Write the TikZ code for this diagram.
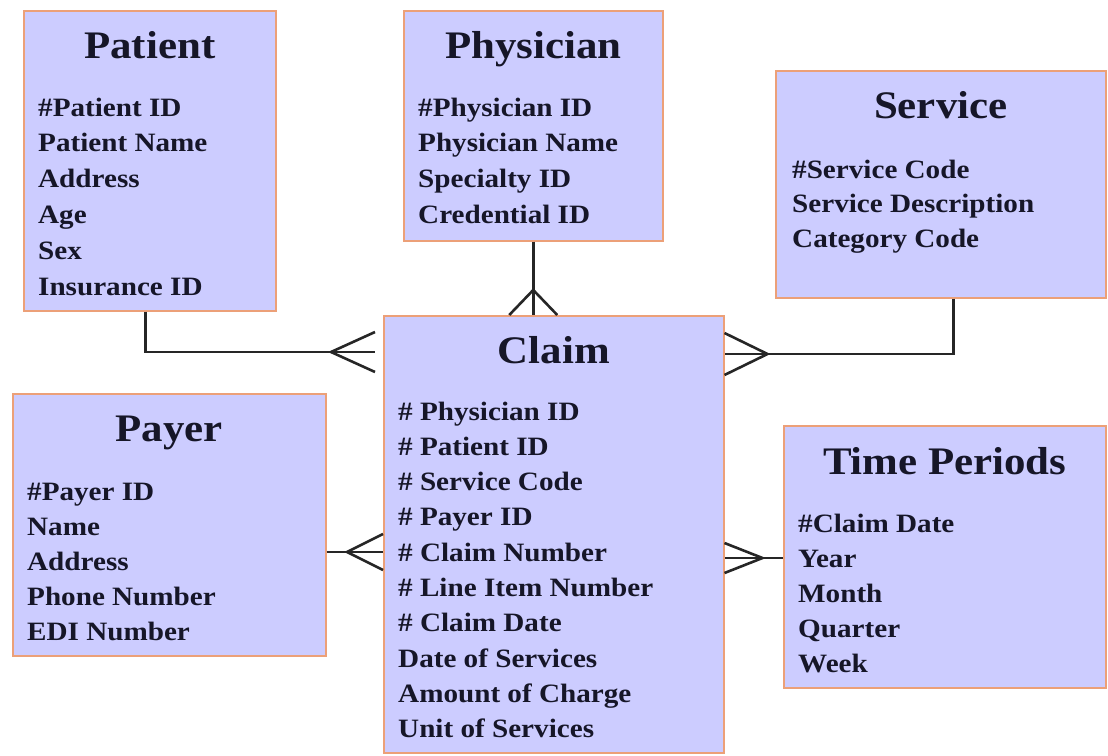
\documentclass[tikz,border=0pt]{standalone}
\usepackage{fontspec}
\setmainfont{Liberation Serif}[FakeStretch=1.1]
\usetikzlibrary{positioning,calc}

\definecolor{boxfill}{RGB}{204,204,255}
\definecolor{boxline}{RGB}{236,160,120}
\definecolor{ink}{RGB}{22,22,40}

\begin{document}
\begin{tikzpicture}
    [%%%%%%%%%%%%%%%%%%%%%%%%%%%%%%
        x=1pt,y=-1pt,
        entity/.style={rectangle,draw=boxline,fill=boxfill,line width=1.5pt,anchor=north west,inner sep=0pt},
        title/.style={anchor=base,inner sep=0pt,text=ink,font=\bfseries\fontsize{39}{39}\selectfont},
        item/.style={anchor=base west,inner sep=0pt,text=ink,font=\bfseries\fontsize{26.5}{26.5}\selectfont},
        link/.style={line width=2.6pt,black!85},
        pics/crow/.style n args={2}{code={\draw[link] (0,-#2) -- (-#1,0) -- (0,#2);}}
    ]%%%%%%%%%%%%%%%%%%%%%%%%%%%%%%
\useasboundingbox (0,0) rectangle (1108,755);

% entity boxes
\node[entity,minimum width=252pt,minimum height=300pt] (patient) at (23,10){};
\node[entity,minimum width=259pt,minimum height=230pt] (physician) at (403,10){};
\node[entity,minimum width=330pt,minimum height=227pt] (service) at (775,70){};
\node[entity,minimum width=340pt,minimum height=437pt] (claim) at (383,315){};
\node[entity,minimum width=313pt,minimum height=262pt] (payer) at (12,393){};
\node[entity,minimum width=322pt,minimum height=262pt] (time) at (783,425){};

% titles
\node[title] (patient-t) at ([yshift=-48pt]patient.north){Patient};
\node[title] (physician-t) at ([yshift=-48pt]physician.north){Physician};
\node[title] (service-t) at ([yshift=-48pt]service.north){Service};
\node[title] (claim-t) at ([yshift=-48pt]claim.north){Claim};
\node[title] (payer-t) at ([yshift=-48pt]payer.north){Payer};
\node[title] (time-t) at ([yshift=-49pt]time.north){Time Periods};

% attributes
\foreach \t [count=\i] in {\#Patient ID,Patient Name,Address,Age,Sex,Insurance ID}
    \node[item] (patient-\i) at ([xshift=15pt,yshift={-106pt-(\i-1)*35.8pt}]patient.north west){\t};

\foreach \t [count=\i] in {\#Physician ID,Physician Name,Specialty ID,Credential ID}
    \node[item] (physician-\i) at ([xshift=15pt,yshift={-106pt-(\i-1)*35.8pt}]physician.north west){\t};

\foreach \t [count=\i] in {\#Service Code,Service Description,Category Code}
    \node[item] (service-\i) at ([xshift=17pt,yshift={-108pt-(\i-1)*34.5pt}]service.north west){\t};

\foreach \t [count=\i] in {\# Physician ID,\# Patient ID,\# Service Code,\# Payer ID,\# Claim Number,\# Line Item Number,\# Claim Date,Date of Services,Amount of Charge,Unit of Services}
    \node[item] (claim-\i) at ([xshift=15pt,yshift={-105pt-(\i-1)*35.3pt}]claim.north west){\t};

\foreach \t [count=\i] in {\#Payer ID,Name,Address,Phone Number,EDI Number}
    \node[item] (payer-\i) at ([xshift=15pt,yshift={-107pt-(\i-1)*35pt}]payer.north west){\t};

\foreach \t [count=\i] in {\#Claim Date,Year,Month,Quarter,Week}
    \node[item] (time-\i) at ([xshift=15pt,yshift={-107pt-(\i-1)*35pt}]time.north west){\t};

% connectors with crow's feet at the claim box
\coordinate (patient-in) at ([xshift=-8pt]claim.west |- 0,352);
\draw[link] ([xshift=-4pt]patient.south) |- (patient-in);
\pic at (patient-in) {crow={44}{20}};

\coordinate (physician-in) at (physician.south |- claim.north);
\draw[link] (physician.south) -- (physician-in);
\pic[rotate=-90] at (physician-in) {crow={25}{24}};

\coordinate (service-in) at (claim.east |- 0,354);
\draw[link] ([xshift=13pt]service.south) |- (service-in);
\pic[rotate=180] at (service-in) {crow={43}{21}};

\coordinate (payer-in) at (claim.west |- 0,552);
\draw[link] (payer.east |- payer-in) -- (payer-in);
\pic at (payer-in) {crow={36}{18}};

\coordinate (time-in) at (claim.east |- 0,558);
\draw[link] (time.west |- time-in) -- (time-in);
\pic[rotate=180] at (time-in) {crow={38}{15}};

\end{tikzpicture}
\end{document}
